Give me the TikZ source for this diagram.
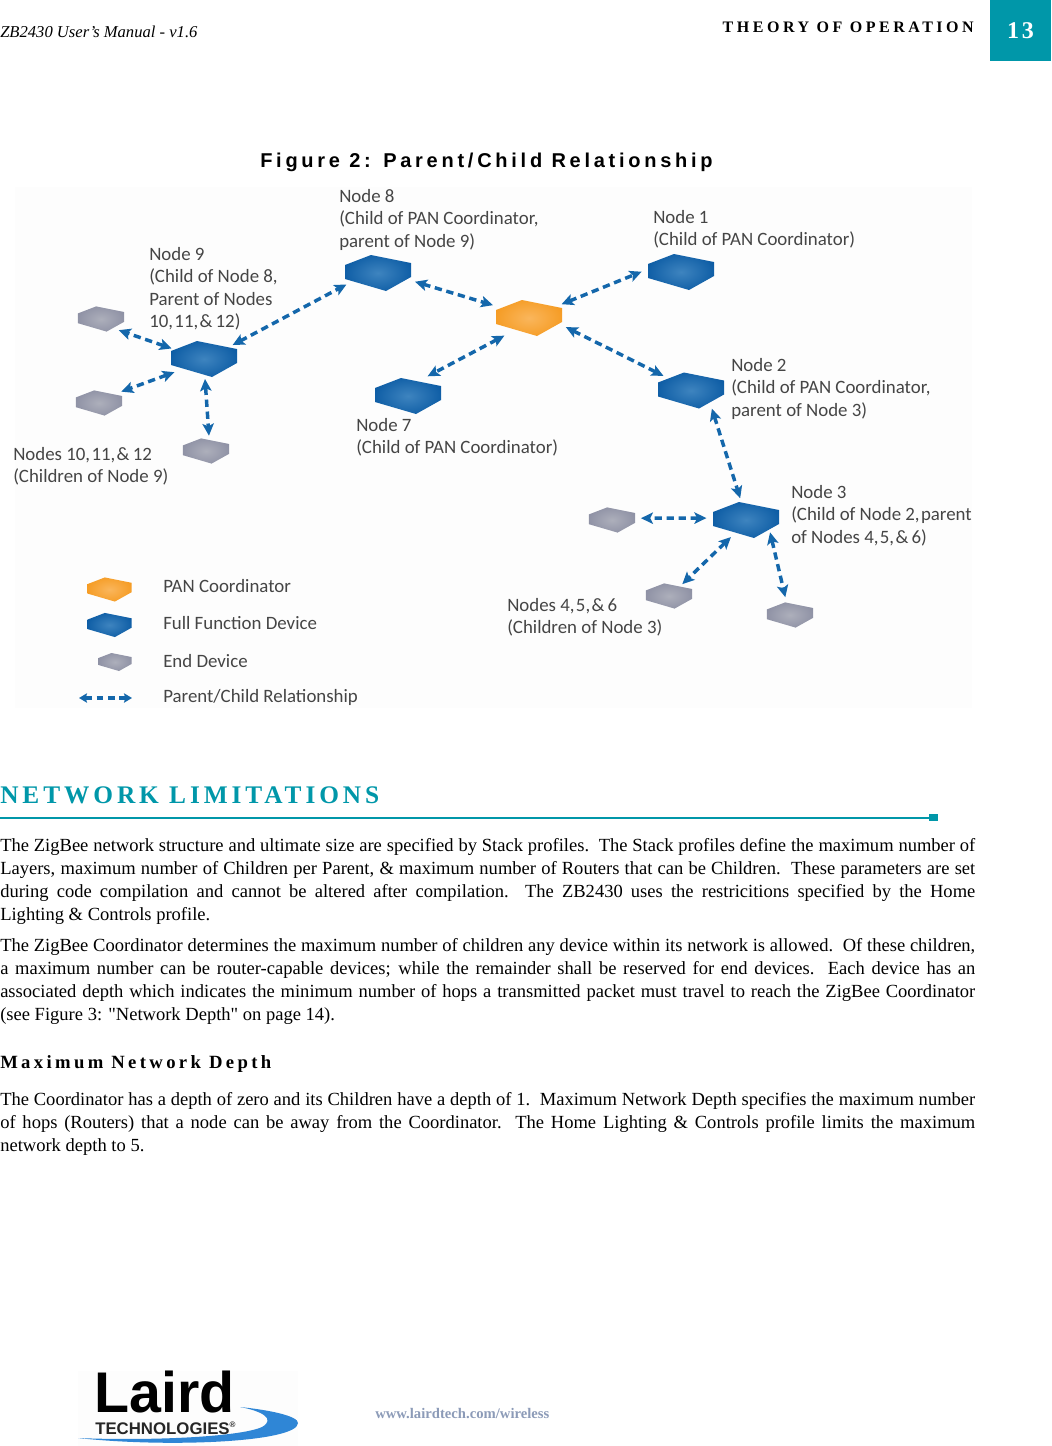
\documentclass[tikz,border=0pt]{standalone}
\usepackage{fontspec}
\setmainfont{Liberation Serif}
\newfontfamily\labelfont{Carlito}
\newfontfamily\figfont{Liberation Sans}
\newfontfamily\quotefont{Liberation Serif}
\usetikzlibrary{arrows.meta,shapes.geometric}
\definecolor{teal}{HTML}{0097A9}
\definecolor{linkblue}{HTML}{1467AB}
\definecolor{labelgray}{HTML}{454545}
\definecolor{orangeout}{HTML}{F59A20}
\definecolor{orangein}{HTML}{FAB65C}
\definecolor{blueout}{HTML}{0A5AA3}
\definecolor{bluein}{HTML}{3E84BF}
\definecolor{grayout}{HTML}{8C8FA3}
\definecolor{grayin}{HTML}{ADAFBB}
\definecolor{figback}{HTML}{FDFDFD}
\definecolor{webgray}{HTML}{8C9BB8}
\definecolor{swoosh}{HTML}{2F86D6}
\newcommand{\tsp}{\hspace{1pt}}
\newcommand{\andsp}{\hspace{2.4pt}}
\newcommand{\paraspace}{\spaceskip=.25em plus .3em minus .1em\relax}
\tikzset{
  hexbody/.style n args={3}{shape=ellipse,inner sep=0pt,outer sep=0pt,
    minimum width=#3*55.5pt,minimum height=#3*33pt,
    path picture={\shade[shift={(path picture bounding box.center)},x=#3*0.75pt,y=-#3*0.75pt,inner color=#1,outer color=#2]
      (-33,-8)--(-7,-18)--(33,-10)--(33,4)--(8,18)--(-33,6)--cycle;}},
  ffd/.style={hexbody={bluein}{blueout}{1}},
  pancoord/.style={hexbody={orangein}{orangeout}{1}},
  enddev/.style={hexbody={grayin}{grayout}{0.7}},
  rel/.style={draw=linkblue,line width=2.6pt,dash pattern=on 5.5pt off 3.5pt,
    {Stealth[length=9pt,width=8.5pt,inset=2pt]}-{Stealth[length=9pt,width=8.5pt,inset=2pt]}},
  lab/.style={anchor=north west,inner sep=0pt,align=left,text=labelgray,
    font=\labelfont\fontsize{14.15}{16.9}\selectfont},
  para/.style={anchor=north west,inner sep=0pt,text width=731.25pt,align=justify,
    font=\fontsize{13.9}{17.25}\selectfont,execute at begin node=\paraspace},
}
\begin{document}
\begin{tikzpicture}[x=0.75pt,y=-0.75pt]
  \useasboundingbox (0,0) rectangle (1051,1446);
  \fill[white] (0,0) rectangle (1051,1446);
  \fill[figback] (15,187) rectangle (972,708);

  \node[anchor=base west,inner sep=0pt,font=\itshape\fontsize{12.45}{15}\selectfont] (runhead) at (0,37) {ZB2430 User’s Manual - v1.6};
  \node[anchor=base east,inner sep=0pt,font=\bfseries\fontsize{12}{15}\selectfont\addfontfeatures{LetterSpace=22}] (chapter) at (974,32) {THEORY OF OPERATION};
  \node[fill=teal,minimum width=45.75pt,minimum height=45.75pt,inner sep=0pt,text=white,font=\bfseries\fontsize{18}{20}\selectfont\addfontfeatures{LetterSpace=12}] (pagenum) at (1020.5,30.5) {13};

  \node[anchor=base west,inner sep=0pt,font=\figfont\bfseries\fontsize{15}{18}\selectfont\addfontfeatures{LetterSpace=18.7}] (figtitle) at (260,167) {Figure 2: Parent/Child Relationship};

  \node[pancoord] (pan) at (529,318) {};
  \node[ffd] (n1) at (681,272) {};
  \node[ffd] (n2) at (691,390.5) {};
  \node[ffd] (n3) at (746,520) {};
  \node[ffd] (n7) at (408,396) {};
  \node[ffd] (n8) at (378,273) {};
  \node[ffd] (n9) at (204,359) {};
  \node[enddev] (e4) at (612,520) {};
  \node[enddev] (e5) at (669,596) {};
  \node[enddev] (e6) at (790,615) {};
  \node[enddev] (e10) at (101,319) {};
  \node[enddev] (e11) at (99,403) {};
  \node[enddev] (e12) at (206,451) {};

  \path[rel] (n9.26.6) -- (n8.200.6);
  \path[rel,shorten <=2pt,shorten >=3.5pt] (n8.-13.7) -- (pan.160.1);
  \path[rel,shorten <=1pt,shorten >=1pt] (pan.216.9) -- (n7.46.5);
  \path[rel,shorten <=2pt,shorten >=2pt] (pan.23.6) -- (n1.178.6);
  \path[rel,shorten <=2pt] (pan.-13.7) -- (n2.152.6);
  \path[rel] (n2.-41.4) -- (n3.105.9);
  \path[rel,shorten <=2pt,shorten >=2.4pt] (n3.177.1) -- (e4.4);
  \path[rel,shorten <=-2.5pt,shorten >=-1pt] (n3.228.6) -- (e5.42.7);
  \path[rel,shorten <=-3pt,shorten >=2pt] (n3.-33.7) -- (e6.105.5);
  \path[rel] (n9.162.6) -- (e10.-32.9);
  \path[rel,shorten >=2.4pt] (n9.204.1) -- (e11.28.6);
  \path[rel,shorten <=-1.5pt] (n9.-87) -- (e12.79.4);

  \node[lab] (lab8) at (339,189) {Node 8\\(Child of PAN Coordinator,\\parent of Node 9)};
  \node[lab] (lab1) at (653,210) {Node 1\\(Child of PAN Coordinator)};
  \node[lab] (lab9) at (149,247) {Node 9\\(Child of Node 8,\\Parent of Nodes\\10,\tsp 11,\tsp\&\andsp 12)};
  \node[lab] (lab2) at (731,358) {Node 2\\(Child of PAN Coordinator,\\parent of Node 3)};
  \node[lab] (lab7) at (356,418) {Node 7\\(Child of PAN Coordinator)};
  \node[lab] (lab10) at (13,447) {Nodes 10,\tsp 11,\tsp\&\andsp 12\\(Children of Node 9)};
  \node[lab] (lab3) at (791,485) {Node 3\\(Child of Node 2,\tsp parent\\of Nodes 4,\tsp 5,\tsp\&\andsp 6)};
  \node[lab] (lab4) at (507,598) {Nodes 4,\tsp 5,\tsp\&\andsp 6\\(Children of Node 3)};

  \node[hexbody={orangein}{orangeout}{0.67}] (keypan) at (109.5,589.5) {};
  \node[hexbody={bluein}{blueout}{0.67}] (keyffd) at (109.5,625) {};
  \node[hexbody={grayin}{grayout}{0.5}] (keyend) at (115,662) {};
  \coordinate (keyl) at (79,698);
  \coordinate (keyr) at (132,698);
  \path[draw=linkblue,line width=2.4pt,dash pattern=on 5pt off 3.5pt,
    {Stealth[length=6pt,width=7pt,inset=1pt]}-{Stealth[length=6pt,width=7pt,inset=1pt]}] (keyl) -- (keyr);
  \node[lab] (keylab1) at (163,579) {PAN Coordinator};
  \node[lab] (keylab2) at (163,616) {Full Function Device};
  \node[lab] (keylab3) at (163,654) {End Device};
  \node[lab] (keylab4) at (163,689) {Parent/Child Relationship};

  \node[anchor=base west,inner sep=0pt,text=teal,font=\bfseries\fontsize{19}{22}\selectfont\addfontfeatures{LetterSpace=15.5}] (nethead) at (0,803) {NETWORK LIMITATIONS};
  \coordinate (rulel) at (0,817.5);
  \node[fill=teal,minimum width=6.75pt,minimum height=5.25pt,inner sep=0pt] (ruleend) at (933.5,817.5) {};
  \draw[teal,line width=1.5pt] (rulel) -- (ruleend);

  \node[para] (p1) at (0,838) {The ZigBee network structure and ultimate size are specified by Stack profiles.\ \ The Stack profiles define the maximum number of\linebreak
    Layers, maximum number of Children per Parent, \& maximum number of Routers that can be Children.\ \ These parameters are set\linebreak
    during code compilation and cannot be altered after compilation.\ \ The ZB2430 uses the restricitions specified by the Home\linebreak
    Lighting \& Controls profile.};
  \node[para] (p2) at (0,938) {The ZigBee Coordinator determines the maximum number of children any device within its network is allowed.\ \ Of these children,\linebreak
    a maximum number can be router-capable devices; while the remainder shall be reserved for end devices.\ \ Each device has an\linebreak
    associated depth which indicates the minimum number of hops a transmitted packet must travel to reach the ZigBee Coordinator\linebreak
    (see Figure 3: {\quotefont"}Network Depth{\quotefont"} on page 14).};
  \node[anchor=base west,inner sep=0pt,font=\bfseries\fontsize{14}{17}\selectfont\addfontfeatures{LetterSpace=18}] (subhead) at (0,1068) {Maximum Network Depth};
  \node[para] (p3) at (0,1092) {The Coordinator has a depth of zero and its Children have a depth of 1.\ \ Maximum Network Depth specifies the maximum number\linebreak
    of hops (Routers) that a node can be away from the Coordinator.\ \ The Home Lighting \& Controls profile limits the maximum\linebreak
    network depth to 5.};

  \fill[figback] (78,1371) rectangle (298,1446);
  \fill[swoosh] (78,1438) .. controls (170,1448) and (298,1442) .. (298,1423) .. controls (298,1416) and (270,1410) .. (240,1407) .. controls (262,1411) and (276,1419) .. (262,1427) .. controls (240,1437) and (150,1441) .. (78,1438) -- cycle;
  \node[anchor=base west,inner sep=0pt,font=\figfont\bfseries\fontsize{43}{44}\selectfont] (logomain) at (94,1412) {Laird};
  \node[anchor=base west,inner sep=0pt,text=black!85,font=\figfont\bfseries\fontsize{12.6}{15}\selectfont] (logosub) at (95,1434) {TECHNOLOGIES{\fontsize{6}{6}\selectfont\raisebox{5pt}{®}}};
  \node[anchor=base west,inner sep=0pt,text=webgray,font=\bfseries\fontsize{11}{13}\selectfont] (weblink) at (375,1418) {www.lairdtech.com/wireless};
\end{tikzpicture}
\end{document}
